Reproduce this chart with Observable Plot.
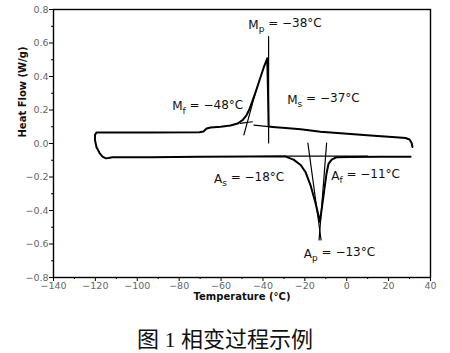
<!DOCTYPE html>
<html><head><meta charset="utf-8">
<script src="https://cdn.jsdelivr.net/npm/d3@7"></script>
<script src="https://cdn.jsdelivr.net/npm/@observablehq/plot@0.6"></script>
<style>
body{margin:0;background:#fff;}
#caption{width:450px;text-align:center;font-family:"Liberation Serif","Noto Sans CJK SC",serif;font-size:22px;line-height:22px;padding-top:21px;color:#111;}
</style>
</head><body>
<div id="chart"></div>
<div id="caption">图 1 相变过程示例</div>
<script>
// DSC curve: cooling (right to left) then heating (left to right)
const curveT = [31.4,31.0,30.0,28.1,23.3,11.4,-2.9,-12.5,-22.0,-29.2,-35.4,-37.3,-37.6,-37.95,-39.7,-41.6,-43.5,-45.0,-46.4,-47.8,-49.7,-52.1,-55.5,-60.2,-65.0,-66.9,-68.4,-70.3,-93.7,-117.6,-119.5,-120.2,-120.2,-119.5,-118.0,-116.6,-115.2,-113.7,-111.8,-93.7,-69.8,-45.9,-31.6,-29.2,-25.4,-22.0,-19.7,-17.3,-14.9,-12.8,-11.8,-10.6,-9.6,-8.7,-7.2,-4.9,1.8,16.2,30.5];
const curveH = [-0.021,0.003,0.024,0.033,0.037,0.048,0.061,0.070,0.085,0.093,0.099,0.101,0.32,0.509,0.451,0.379,0.307,0.254,0.206,0.170,0.140,0.119,0.107,0.100,0.096,0.090,0.072,0.067,0.066,0.066,0.066,0.051,0.021,-0.021,-0.057,-0.078,-0.088,-0.087,-0.082,-0.082,-0.079,-0.078,-0.076,-0.078,-0.096,-0.128,-0.170,-0.248,-0.355,-0.467,-0.379,-0.266,-0.176,-0.122,-0.096,-0.082,-0.081,-0.079,-0.079];

// construction lines (tangents / markers): pairs of endpoints
const guideId = ["mp","mp","mfTan","mfTan","mfBase","mfBase","msBase","msBase","asTan","asTan","afTan","afTan","aBase","aBase"];
const guideT = [-37.3,-37.3,-49.1,-43.5,-50.8,-45.1,-44.3,-37.3,-18.55,-12.25,-9.6,-13.2,-30.2,10.0];
const guideH = [0.638,0.003,0.051,0.307,0.12,0.13,0.110,0.101,0.003,-0.576,0.003,-0.576,-0.075,-0.075];

// annotations
const annLetter = ["M","M","M","A","A","A"];
const annSub = ["p","f","s","s","f","p"];
const annValue = ["= −38°C","= −48°C","= −37°C","= −18°C","= −11°C","= −13°C"];
const annT = [-47.0,-83.3,-28.4,-63.4,-7.4,-20.5];
const annH = [0.707,0.22,0.26,-0.212,-0.194,-0.659];

const xTicks = [-140,-120,-100,-80,-60,-40,-20,0,20,40];
const xMinor = [-130,-110,-90,-70,-50,-30,-10,10,30];
const yTicks = [-0.8,-0.6,-0.4,-0.2,0.0,0.2,0.4,0.6,0.8];
const yMinor = [-0.7,-0.5,-0.3,-0.1,0.1,0.3,0.5,0.7];

const curve = curveT.map((t,i)=>({t, h: curveH[i]}));
const guides = guideT.map((t,i)=>({id: guideId[i], t, h: guideH[i]}));
const anns = annT.map((t,i)=>({t, h: annH[i], label: annLetter[i]+"_"+annSub[i]+" "+annValue[i]}));

const font = "DejaVu Sans, Verdana, sans-serif";
const chart = Plot.plot({
  width: 450, height: 308,
  marginLeft: 53, marginRight: 20, marginTop: 9, marginBottom: 31,
  style: {fontFamily: font, background: "#fff"},
  x: {domain: [-140, 40]},
  y: {domain: [-0.8, 0.8]},
  marks: [
    Plot.axisX(xTicks, {tickSize: 4, tickPadding: 1, stroke: "#000", fill: "#666", fontSize: 9.5, tickFormat: d3.format("d"), label: null}),
    Plot.axisX(xMinor, {tickSize: 2, stroke: "#000", tickFormat: () => "", label: null}),
    Plot.axisY(yTicks, {tickSize: 4, tickPadding: 1, stroke: "#000", fill: "#666", fontSize: 9.5, tickFormat: d3.format(".1f"), label: null}),
    Plot.axisY(yMinor, {tickSize: 2, stroke: "#000", tickFormat: () => "", label: null}),
    Plot.frame({stroke: "#000", strokeWidth: 1.4}),
    Plot.line(guides, {x: "t", y: "h", z: "id", stroke: "#000", strokeWidth: 1.2}),
    Plot.line(curve, {x: "t", y: "h", stroke: "#000", strokeWidth: 2, strokeLinejoin: "round"}),
    Plot.text(anns, {x: "t", y: "h", text: "label", textAnchor: "start", fontSize: 12, fill: "#111", fontFamily: font}),
    Plot.text(["Temperature (°C)"], {frameAnchor: "bottom", dy: 22, fontWeight: "bold", fontSize: 10, fill: "#111"}),
    Plot.text(["Heat Flow (W/g)"], {frameAnchor: "left", dx: -31, dy: -6, rotate: -90, fontWeight: "bold", fontSize: 10, fill: "#111"})
  ]
});
// render subscripts
chart.querySelectorAll("text").forEach(el => {
  const m = /^([MA])_([a-z]) (.*)$/.exec(el.textContent);
  if (!m) return;
  el.textContent = "";
  const ns = "http://www.w3.org/2000/svg";
  const a = document.createElementNS(ns, "tspan"); a.textContent = m[1];
  const b = document.createElementNS(ns, "tspan"); b.textContent = m[2]; b.setAttribute("dy", "0.35em"); b.setAttribute("font-size", "9");
  const c = document.createElementNS(ns, "tspan"); c.textContent = " " + m[3]; c.setAttribute("dy", "-0.39em");
  el.append(a, b, c);
});
document.getElementById("chart").append(chart);
</script>
</body></html>
